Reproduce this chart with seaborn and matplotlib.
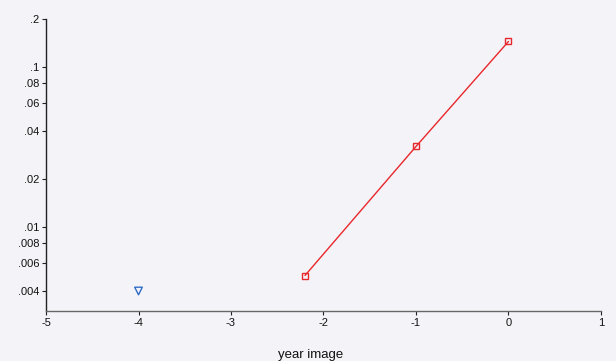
import matplotlib
matplotlib.use("Agg")
import matplotlib.pyplot as plt
import seaborn as sns
import pandas as pd
from matplotlib.ticker import FixedLocator, FixedFormatter, NullLocator

# Series values
red_years = [-2.2, -1.0, 0.0]
red_values = [0.005, 0.032, 0.145]
blue_years = [-4.0]
blue_values = [0.004]

x_ticks = [-5, -4, -3, -2, -1, 0, 1]
y_ticks = [0.2, 0.1, 0.08, 0.06, 0.04, 0.02, 0.01, 0.008, 0.006, 0.004]
y_tick_labels = [".2", ".1", ".08", ".06", ".04", ".02", ".01", ".008", ".006", ".004"]

sns.set_style("white")
plt.rcParams["font.family"] = ["Liberation Sans", "DejaVu Sans"]

bg = "#F4F4F8"
fig = plt.figure(figsize=(6.16, 3.61), dpi=100, facecolor=bg)
ax = fig.add_axes([0.0747, 0.1385, 0.9009, 0.8085], facecolor=bg)

red_df = pd.DataFrame({"year": red_years, "value": red_values})
blue_df = pd.DataFrame({"year": blue_years, "value": blue_values})

sns.lineplot(data=red_df, x="year", y="value", ax=ax, color="#E8272C",
             linewidth=1.0, marker="s", markersize=4.5,
             markerfacecolor="none", markeredgecolor="#E8272C",
             markeredgewidth=1.0)
sns.scatterplot(data=blue_df, x="year", y="value", ax=ax, marker="v",
                s=30, facecolor="none", edgecolor="#2E6DC8", linewidth=1.0)

ax.set_yscale("log")
ax.set_xlim(-5, 1)
ax.set_ylim(0.003, 0.2)

ax.xaxis.set_major_locator(FixedLocator(x_ticks))
ax.set_xticklabels([str(t) for t in x_ticks])
ax.yaxis.set_major_locator(FixedLocator(y_ticks))
ax.yaxis.set_major_formatter(FixedFormatter(y_tick_labels))
ax.yaxis.set_minor_locator(NullLocator())

for side in ("top", "right"):
    ax.spines[side].set_visible(False)
ax.spines["left"].set_color("#222222")
ax.spines["bottom"].set_color("#666666")
for side in ("left", "bottom"):
    ax.spines[side].set_linewidth(1.0)

ax.tick_params(axis="both", which="major", length=3, width=0.8,
               color="#222222", labelsize=8, labelcolor="#111111",
               left=True, bottom=True, pad=2)

ax.set_xlabel("")
ax.set_ylabel("")
# Axis title centred under the whole figure
fig.text(0.505, 0.016, "year image", fontsize=9.5, color="#111111",
         ha="center", va="center")

fig.savefig("out.png", dpi=100, facecolor=bg)
